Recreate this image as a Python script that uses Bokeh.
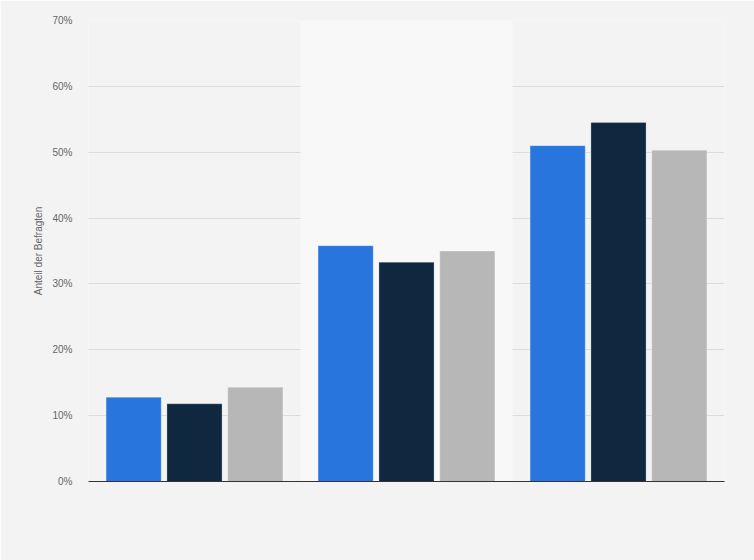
from bokeh.plotting import figure
from bokeh.models import BoxAnnotation, PrintfTickFormatter, FixedTicker, Range1d
from bokeh.transform import dodge
from bokeh.embed import file_html
from bokeh.resources import INLINE

# data (in percent)
groups = ["Gruppe 1", "Gruppe 2", "Gruppe 3"]
series_a = [12.8, 35.8, 51.0]
series_b = [11.8, 33.3, 54.5]
series_c = [14.3, 35.0, 50.3]
y_ticks = [0, 10, 20, 30, 40, 50, 60, 70]

colors = ["#2876dd", "#0f283f", "#b7b7b7"]
bg = "#f3f3f3"

p = figure(x_range=groups, y_range=Range1d(0, 70), width=754, height=560,
           output_backend="svg", toolbar_location=None,
           min_border_left=88, min_border_right=30, min_border_top=20, min_border_bottom=79)
p.background_fill_color = bg
p.border_fill_color = bg
p.outline_line_color = None

# lighter band behind the middle group
p.add_layout(BoxAnnotation(left=1, right=2, fill_color="#f8f8f8", fill_alpha=1,
                           line_color=None, level="underlay"))

data = dict(g=groups, a=series_a, b=series_b, c=series_c)
w = 0.26
offsets = [-0.287, 0.0, 0.287]
for key, off, col in zip(["a", "b", "c"], offsets, colors):
    p.vbar(x=dodge("g", off, range=p.x_range), top=key, width=w, source=data,
           fill_color=col, line_color="white", line_alpha=0.25, line_width=1)

# grid
p.xgrid.grid_line_color = None
p.ygrid.grid_line_color = "#c4c4c4"
p.ygrid.grid_line_dash = "1 1"
p.ygrid.grid_line_width = 1

# y axis
p.yaxis.ticker = FixedTicker(ticks=y_ticks)
p.yaxis.formatter = PrintfTickFormatter(format="%d%%")
p.yaxis.axis_line_color = None
p.yaxis.major_tick_line_color = None
p.yaxis.minor_tick_line_color = None
p.yaxis.major_label_text_font = "Liberation Sans"
p.yaxis.major_label_text_font_size = "10px"
p.yaxis.major_label_text_color = "#666666"
p.yaxis.major_label_standoff = 10
p.yaxis.axis_label = "Anteil der Befragten"
p.yaxis.axis_label_text_font = "Liberation Sans"
p.yaxis.axis_label_text_font_size = "10px"
p.yaxis.axis_label_text_font_style = "normal"
p.yaxis.axis_label_text_color = "#666666"
p.yaxis.axis_label_standoff = 5

# x axis: just the baseline
p.xaxis.axis_line_color = "#333333"
p.xaxis.axis_line_width = 1
p.xaxis.major_tick_line_color = None
p.xaxis.minor_tick_line_color = None
p.xaxis.major_label_text_font_size = "0px"
p.xaxis.major_label_text_color = None

html = file_html(p, INLINE)
html = html.replace("<body>", '<body style="background:%s">' % bg, 1)
open("out.html", "w").write(html)
